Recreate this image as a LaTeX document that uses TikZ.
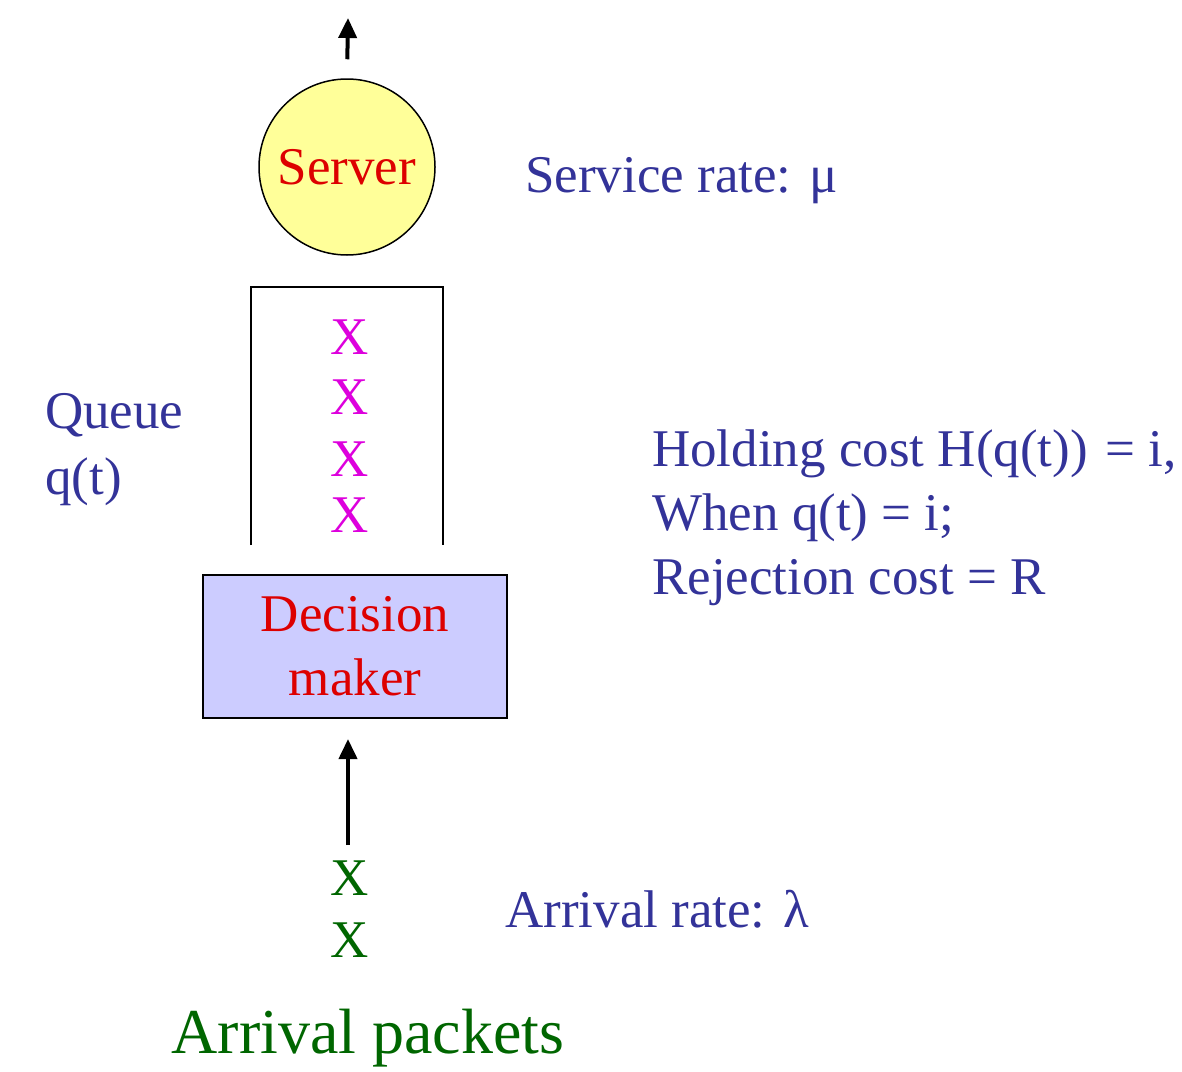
\documentclass[tikz,border=0pt]{standalone}
\usepackage{fontspec}
\setmainfont{Liberation Serif}
\usetikzlibrary{arrows.meta}
\definecolor{servfill}{HTML}{FFFF99}
\definecolor{boxfill}{HTML}{CCCCFF}
\definecolor{txtred}{HTML}{DD0000}
\definecolor{txtblue}{HTML}{333399}
\definecolor{txtgreen}{HTML}{006600}
\definecolor{pktpink}{HTML}{DD00DD}

\begin{document}
\begin{tikzpicture}[x=1pt,y=-1pt,
    every node/.style={inner sep=0pt, font=\fontsize{53}{64}\selectfont},
    flow/.style={line width=4pt, -{Triangle[length=20pt,width=18pt]}},
    server/.style={circle, draw, line width=1.5pt, fill=servfill, minimum size=176pt, text=txtred},
    decbox/.style={draw, line width=2pt, fill=boxfill, minimum width=304pt, minimum height=143pt, align=center, text=txtred},
    note/.style={anchor=base west, text=txtblue, align=left},
    pkt/.style={text=pktpink},
    arr/.style={text=txtgreen}]
  \useasboundingbox (0,0) rectangle (1182,1071);
  % server and its output
  \node[server] (server) at (347,167) {Server};
  \coordinate (out) at (348,18);
  \draw[flow, shorten <=19pt] (server.north) -- (out);
  \node[note] (mu) at (525,192) {Service rate: μ};
  % queue
  \draw[line width=2pt] (251,545) -- (251,287) -- (443,287) -- (443,545);
  \foreach \y/\n in {337/1,397/2,459/3,515/4}
    \node[pkt] (q\n) at (350,\y) {X};
  \node[note, font=\fontsize{53}{66}\selectfont] (qlab) at (45,494) {Queue\\q(t)};
  \node[note] (cost) at (652,594) {Holding cost H(q(t))\hspace{4pt} = i,\\When q(t) = i;\\Rejection cost = R};
  % decision maker
  \node[decbox] (dm) at (355,646.5) {Decision\\maker};
  \coordinate (in) at (348,845);
  \draw[flow, shorten >=20pt] (in) -- (in |- dm.south);
  % arrivals
  \node[arr] (a1) at (350,878) {X};
  \node[arr] (a2) at (350,940) {X};
  \node[note] (lam) at (505,927) {Arrival rate: λ};
  \node[arr, anchor=base, font=\fontsize{64}{72}\selectfont] (pkts) at (368,1053) {Arrival packets};
\end{tikzpicture}
\end{document}
